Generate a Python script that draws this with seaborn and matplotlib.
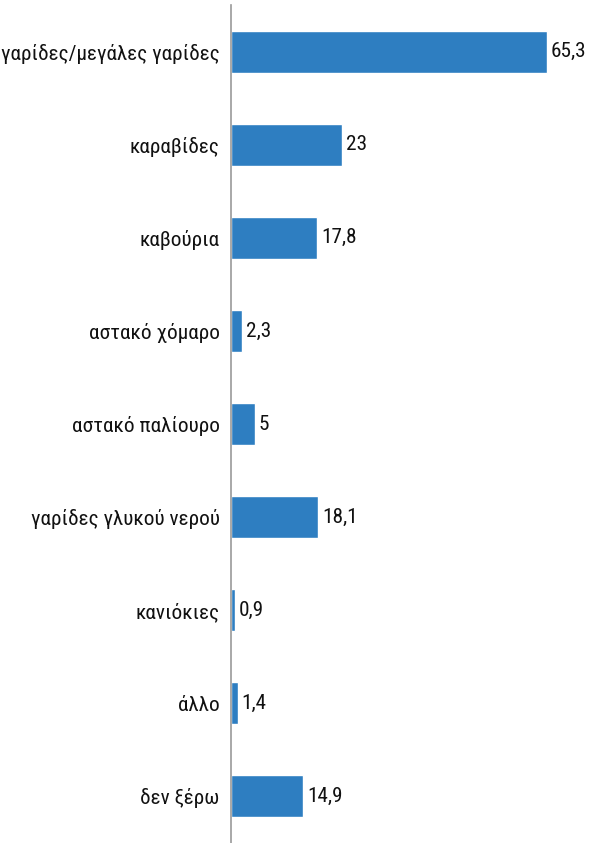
import matplotlib
matplotlib.use("Agg")
import matplotlib.pyplot as plt
import seaborn as sns
import pandas as pd

# data
categories = ["γαρίδες/μεγάλες γαρίδες", "καραβίδες", "καβούρια", "αστακό χόμαρο",
              "αστακό παλίουρο", "γαρίδες γλυκού νερού", "κανιόκιες", "άλλο", "δεν ξέρω"]
values = [65.3, 23, 17.8, 2.3, 5, 18.1, 0.9, 1.4, 14.9]

df = pd.DataFrame({"cat": categories, "val": values})

sns.set_style("white")
plt.rcParams['font.family'] = ['Roboto Condensed', 'DejaVu Sans']

fig = plt.figure(figsize=(5.89, 8.43), dpi=100)
ax = fig.add_axes([0.392, 0.0, 0.608, 0.994])

sns.barplot(data=df, x="val", y="cat", color="#2E7EC1", saturation=1,
            width=0.45, ax=ax)

# value labels with comma decimals
for i, v in enumerate(values):
    label = f"{v:g}".replace(".", ",")
    ax.text(v + 0.8, i, label, va="center", ha="left", fontsize=15.3, color="#111111")

ax.set_xlim(0, 74)
ax.set_ylim(8.5, -0.5)
ax.set_xlabel("")
ax.set_ylabel("")
ax.set_xticks([])
ax.tick_params(axis="y", length=0, pad=8, labelsize=15.3, labelcolor="#111111")

for s in ["top", "right", "bottom"]:
    ax.spines[s].set_visible(False)
ax.spines["left"].set_color("#999999")
ax.spines["left"].set_linewidth(1.2)

fig.savefig("out.png", dpi=100)
